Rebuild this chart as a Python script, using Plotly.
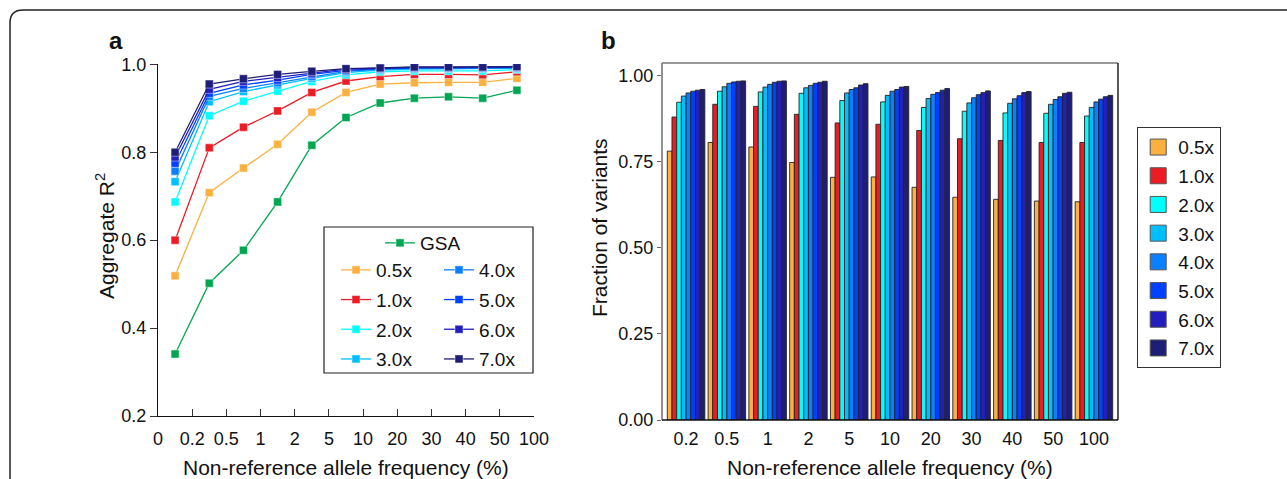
import plotly.graph_objects as go

W, H = 1287, 479
def px(x): return x / W
def py(y): return 1 - y / H

FONT = "Arial, Liberation Sans, sans-serif"

# ---------------- data: panel a ----------------
freq_ticks = ["0", "0.2", "0.5", "1", "2", "5", "10", "20", "30", "40", "50", "100"]
bin_pos = [0.5, 1.5, 2.5, 3.5, 4.5, 5.5, 6.5, 7.5, 8.5, 9.5, 10.5]   # bins between ticks

gsa   = [0.341, 0.502, 0.577, 0.687, 0.816, 0.879, 0.912, 0.923, 0.926, 0.923, 0.941]
r05x  = [0.519, 0.708, 0.764, 0.818, 0.891, 0.936, 0.955, 0.958, 0.959, 0.959, 0.968]
r10x  = [0.600, 0.810, 0.857, 0.894, 0.936, 0.962, 0.972, 0.977, 0.977, 0.976, 0.983]
r20x  = [0.687, 0.883, 0.916, 0.939, 0.961, 0.976, 0.983, 0.985, 0.985, 0.985, 0.988]
r30x  = [0.733, 0.915, 0.938, 0.953, 0.968, 0.981, 0.987, 0.989, 0.990, 0.990, 0.991]
r40x  = [0.757, 0.927, 0.945, 0.958, 0.972, 0.984, 0.989, 0.991, 0.991, 0.991, 0.992]
r50x  = [0.775, 0.934, 0.953, 0.964, 0.977, 0.986, 0.990, 0.992, 0.992, 0.992, 0.993]
r60x  = [0.789, 0.943, 0.961, 0.970, 0.980, 0.989, 0.991, 0.993, 0.993, 0.993, 0.994]
r70x  = [0.800, 0.955, 0.967, 0.977, 0.984, 0.990, 0.992, 0.994, 0.994, 0.994, 0.995]

# ---------------- data: panel b ----------------
freq_cats = ["0.2", "0.5", "1", "2", "5", "10", "20", "30", "40", "50", "100"]
f05x = [0.781, 0.806, 0.793, 0.748, 0.705, 0.706, 0.676, 0.647, 0.641, 0.636, 0.634]
f10x = [0.880, 0.917, 0.911, 0.888, 0.863, 0.859, 0.841, 0.817, 0.812, 0.806, 0.806]
f20x = [0.923, 0.955, 0.953, 0.949, 0.928, 0.924, 0.908, 0.897, 0.892, 0.891, 0.883]
f30x = [0.941, 0.968, 0.967, 0.965, 0.950, 0.943, 0.934, 0.921, 0.920, 0.917, 0.908]
f40x = [0.950, 0.978, 0.975, 0.972, 0.960, 0.955, 0.946, 0.936, 0.933, 0.931, 0.924]
f50x = [0.955, 0.982, 0.981, 0.978, 0.965, 0.960, 0.951, 0.945, 0.942, 0.939, 0.932]
f60x = [0.958, 0.984, 0.984, 0.981, 0.973, 0.967, 0.958, 0.951, 0.951, 0.949, 0.939]
f70x = [0.960, 0.985, 0.985, 0.984, 0.977, 0.969, 0.963, 0.956, 0.954, 0.952, 0.943]

depth_names = ["0.5x", "1.0x", "2.0x", "3.0x", "4.0x", "5.0x", "6.0x", "7.0x"]
depth_colors = ["#fbb040", "#ed1c24", "#00ffff", "#00bfff", "#0a80ff", "#0040ff", "#231ebe", "#1e1e78"]
gsa_color = "#00a651"

r2_series = [r05x, r10x, r20x, r30x, r40x, r50x, r60x, r70x]
frac_series = [f05x, f10x, f20x, f30x, f40x, f50x, f60x, f70x]

fig = go.Figure()

halo = dict(color="rgba(255,255,255,0.55)", width=0.8)

# panel a lines
fig.add_trace(go.Scatter(
    x=bin_pos, y=gsa, name="GSA", mode="lines+markers",
    line=dict(color=gsa_color, width=1.3),
    marker=dict(symbol="square", size=8, color=gsa_color, line=halo),
    legend="legend", legendgroup="a_gsa", xaxis="x", yaxis="y"))
for i, (nm, col, ys) in enumerate(zip(depth_names, depth_colors, r2_series)):
    fig.add_trace(go.Scatter(
        x=bin_pos, y=ys, name=nm, mode="lines+markers",
        line=dict(color=col, width=1.3),
        marker=dict(symbol="square", size=8, color=col, line=halo),
        legend="legend2" if i < 4 else "legend3", legendgroup="a_" + nm, xaxis="x", yaxis="y"))

# panel b bars
for nm, col, ys in zip(depth_names, depth_colors, frac_series):
    fig.add_trace(go.Bar(
        x=freq_cats, y=ys, name=nm, marker=dict(color=col, line=dict(color="#222222", width=0.9)),
        showlegend=False, xaxis="x2", yaxis="y2"))
# legend entries for panel b
for nm, col in zip(depth_names, depth_colors):
    fig.add_trace(go.Scatter(
        x=[None], y=[None], name=nm, mode="markers",
        marker=dict(symbol="square", size=16, color=col, line=dict(color="#555555", width=1)),
        legend="legend4", legendgroup="b_" + nm, xaxis="x2", yaxis="y2"))

tickfont = dict(family=FONT, size=18, color="#111111")
legfont = dict(family=FONT, size=19, color="#111111")

fig.update_layout(
    width=W, height=H,
    margin=dict(l=0, r=0, t=0, b=0),
    paper_bgcolor="white", plot_bgcolor="white",
    font=dict(family=FONT, size=18, color="#111111"),
    showlegend=True,
    barmode="group", bargap=0.08, bargroupgap=0,
    xaxis=dict(domain=[px(158), px(534)], range=[0, 11], tickmode="array",
               tickvals=list(range(len(freq_ticks))), ticktext=freq_ticks,
               ticks="inside", ticklen=7, tickcolor="#333", showline=True, linecolor="#111",
               linewidth=1.2, showgrid=False, zeroline=False, tickfont=tickfont, automargin=False,
               ticklabelstandoff=6),
    yaxis=dict(domain=[py(416), py(64.3)], range=[0.2, 1.0], tickvals=[0.2, 0.4, 0.6, 0.8, 1.0],
               tickformat=".1f", ticks="outside", ticklen=7, tickcolor="#333", showline=True,
               linecolor="#111", linewidth=1.2, showgrid=False, zeroline=False, tickfont=tickfont,
               automargin=False),
    xaxis2=dict(domain=[px(662), px(1118)], type="category", range=[-0.59, 10.59],
                ticks="", showline=False, showgrid=False, zeroline=False, tickfont=tickfont,
                automargin=False, anchor="y2", ticklabelstandoff=6),
    yaxis2=dict(domain=[py(420), py(63)], range=[0, 1.037], tickvals=[0, 0.25, 0.5, 0.75, 1.0],
                tickformat=".2f", ticks="outside", ticklen=4, tickcolor="#666", showline=False,
                showgrid=False, zeroline=False, tickfont=tickfont, automargin=False, anchor="x2"),
    legend=dict(x=px(380), y=py(224), xanchor="left", yanchor="top", bgcolor="rgba(0,0,0,0)",
                font=legfont, borderwidth=0, tracegroupgap=2),
    legend2=dict(x=px(336), y=py(251), xanchor="left", yanchor="top", bgcolor="rgba(0,0,0,0)",
                 font=legfont, borderwidth=0, tracegroupgap=2),
    legend3=dict(x=px(439), y=py(251), xanchor="left", yanchor="top", bgcolor="rgba(0,0,0,0)",
                 font=legfont, borderwidth=0, tracegroupgap=2),
    legend4=dict(x=px(1137), y=py(127), xanchor="left", yanchor="top", bgcolor="white",
                 font=legfont, borderwidth=1.2, bordercolor="#333", tracegroupgap=1),
)

shapes = []
# outer rounded frame
frame = (f"M {px(10)},{py(500)} L {px(10)},{py(23)} Q {px(10)},{py(10)} {px(23)},{py(10)} "
         f"L {px(1300)},{py(10)}")
shapes.append(dict(type="path", path=frame, xref="paper", yref="paper",
                   line=dict(color="#222", width=1.5)))
# legend box panel a
shapes.append(dict(type="rect", xref="paper", yref="paper", x0=px(324), x1=px(533), y0=py(373), y1=py(227),
                   line=dict(color="#222", width=1.2), layer="below"))
# panel b frame
shapes.append(dict(type="line", xref="paper", yref="paper", x0=px(662), x1=px(1118), y0=py(63), y1=py(63),
                   line=dict(color="#777", width=1.6)))
shapes.append(dict(type="line", xref="paper", yref="paper", x0=px(662), x1=px(662), y0=py(63), y1=py(420),
                   line=dict(color="#777", width=1.6)))
shapes.append(dict(type="line", xref="paper", yref="paper", x0=px(1118), x1=px(1118), y0=py(63), y1=py(420),
                   line=dict(color="#111", width=1.4)))
shapes.append(dict(type="line", xref="paper", yref="paper", x0=px(662), x1=px(1118), y0=py(420), y1=py(420),
                   line=dict(color="#111", width=1.4)))
fig.update_layout(shapes=shapes)

def note(text, x, y, size, angle=0):
    return dict(text=text, x=px(x), y=py(y), xref="paper", yref="paper", showarrow=False,
                xanchor="center", yanchor="middle", textangle=angle,
                font=dict(family=FONT, size=size, color="#111"))

ann = [
    note("<b>a</b>", 116, 41, 24),
    note("<b>b</b>", 608, 40, 24),
    note("Aggregate R<sup>2</sup>", 105, 236, 21, -90),
    note("Non-reference allele frequency (%)", 346, 467, 21),
    note("Fraction of variants", 600, 228, 21, -90),
    note("Non-reference allele frequency (%)", 890, 467, 21),
]
fig.update_layout(annotations=ann)

fig.write_html("out.html")
